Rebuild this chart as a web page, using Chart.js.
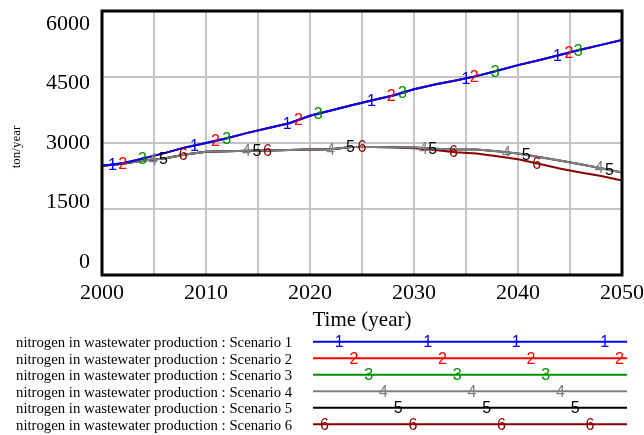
<!DOCTYPE html>
<html><head><meta charset="utf-8">
<script src="https://cdn.jsdelivr.net/npm/chart.js@4.4.0/dist/chart.umd.min.js"></script>
<style>html,body{margin:0;padding:0;background:#fff;overflow:hidden}canvas{display:block}</style>
</head><body>
<canvas id="c" width="644" height="435"></canvas>
<script>
const years = [2000,2002,2004,2006,2008,2010,2012,2014,2016,2018,2020,2022,2024,2026,2028,2030,2032,2034,2036,2038,2040,2042,2044,2046,2048,2050];
const scenario1 = [2480,2540,2650,2770,2900,3000,3110,3230,3340,3450,3620,3740,3860,3970,4080,4220,4330,4420,4520,4640,4770,4880,5000,5120,5230,5340];
const scenario2 = [2480,2540,2650,2770,2900,3000,3110,3230,3340,3450,3620,3740,3860,3970,4080,4220,4330,4420,4520,4640,4770,4880,5000,5120,5230,5340];
const scenario3 = [2480,2540,2650,2770,2900,3000,3110,3230,3340,3450,3620,3740,3860,3970,4080,4220,4330,4420,4520,4640,4770,4880,5000,5120,5230,5340];
const scenario4 = [2480,2530,2600,2650,2740,2800,2815,2825,2830,2840,2850,2860,2910,2910,2905,2895,2870,2855,2850,2810,2760,2680,2600,2515,2425,2330];
const scenario5 = [2480,2530,2600,2650,2740,2800,2815,2825,2830,2840,2850,2860,2910,2910,2905,2895,2870,2855,2850,2810,2760,2680,2600,2515,2425,2330];
const scenario6 = [2480,2530,2600,2650,2740,2800,2815,2825,2830,2840,2850,2860,2910,2910,2905,2880,2840,2790,2760,2700,2630,2530,2420,2330,2250,2150];
const seriesNames = [
  "nitrogen in wastewater production : Scenario 1",
  "nitrogen in wastewater production : Scenario 2",
  "nitrogen in wastewater production : Scenario 3",
  "nitrogen in wastewater production : Scenario 4",
  "nitrogen in wastewater production : Scenario 5",
  "nitrogen in wastewater production : Scenario 6"
];
const markerYears = [
  [2001.0, 2008.9, 2017.8, 2025.9, 2035.0, 2043.8],
  [2002.0, 2010.9, 2018.9, 2027.8, 2035.8, 2044.9],
  [2003.9, 2012.0, 2020.8, 2028.9, 2037.8, 2045.8],
  [2004.9, 2013.9, 2022.0, 2030.9, 2038.9, 2047.8],
  [2005.9, 2014.9, 2023.9, 2031.8, 2040.8, 2048.8],
  [2007.8, 2015.9, 2025.0, 2033.8, 2041.8]
];
const xTickLabels = [2000,2010,2020,2030,2040,2050];
const yTickLabels = [0,1500,3000,4500,6000];
const xTitle = "Time (year)";
const yTitle = "ton/year";

const seriesValues = [scenario1,scenario2,scenario3,scenario4,scenario5,scenario6];
const seriesColors = ['#0000ff','#ff0000','#009000','#808080','#000000','#8b0000'];

function interp(xs, ys, x){
  for(let i=0;i<xs.length-1;i++){
    if(x>=xs[i] && x<=xs[i+1]){
      const t=(x-xs[i])/(xs[i+1]-xs[i]);
      return ys[i]+t*(ys[i+1]-ys[i]);
    }
  }
  return ys[ys.length-1];
}

const datasets = seriesValues.map((vals,i)=>({
  label: seriesNames[i],
  data: years.map((yr,j)=>({x:yr,y:vals[j]})),
  borderColor: seriesColors[i],
  backgroundColor: seriesColors[i],
  borderWidth: 2,
  pointRadius: 0,
  fill: false,
  tension: 0
}));

const SERIF = "'Liberation Serif','Times New Roman',serif";
const SANS = "'Liberation Sans',Arial,sans-serif";

const decor = {
  id: 'decor',
  afterDraw(chart){
    const ctx = chart.ctx;
    const ca = chart.chartArea;
    const xs = chart.scales.x, ys = chart.scales.y;
    ctx.save();
    // markers on lines
    ctx.font = "16px " + SANS;
    ctx.textAlign = 'center';
    ctx.textBaseline = 'middle';
    for(let i=seriesValues.length-1;i>=0;i--){
      ctx.fillStyle = seriesColors[i];
      markerYears[i].forEach(yr=>{
        const v = interp(years, seriesValues[i], yr);
        ctx.fillText(String(i+1), xs.getPixelForValue(yr), ys.getPixelForValue(v)+1);
      });
    }
    // frame
    ctx.strokeStyle = '#000';
    ctx.lineWidth = 3;
    ctx.strokeRect(ca.left, ca.top, ca.right-ca.left, ca.bottom-ca.top);
    // y tick labels (Vensim-style spacing)
    ctx.fillStyle = '#000';
    ctx.font = "22px " + SERIF;
    ctx.textAlign = 'right';
    ctx.textBaseline = 'middle';
    const mid = (ca.top+ca.bottom)/2;
    yTickLabels.forEach(v=>{
      const p = ys.getPixelForValue(v);
      const yy = mid + (p-mid)*0.9;
      ctx.fillText(String(v), 90, yy);
    });
    // x title
    ctx.textAlign = 'center';
    ctx.font = "21px " + SERIF;
    ctx.fillText(xTitle, (ca.left+ca.right)/2, 320);
    // y title
    ctx.save();
    ctx.translate(17, mid+4);
    ctx.rotate(-Math.PI/2);
    ctx.font = "13px " + SERIF;
    ctx.fillText(yTitle, 0, 0);
    ctx.restore();
    // legend
    ctx.font = "100px " + SERIF;
    const w = ctx.measureText(seriesNames[0]).width;
    const fs = 100*276/w;
    for(let i=0;i<seriesNames.length;i++){
      const ty = 343.5 + i*16.5;
      const ly = 341.7 + i*16.5;
      ctx.font = fs.toFixed(2)+"px " + SERIF;
      ctx.fillStyle = '#000';
      ctx.textAlign = 'left';
      ctx.textBaseline = 'middle';
      ctx.fillText(seriesNames[i], 16, ty);
      ctx.strokeStyle = seriesColors[i];
      ctx.lineWidth = 2;
      ctx.beginPath();
      ctx.moveTo(313, ly);
      ctx.lineTo(627, ly);
      ctx.stroke();
      ctx.fillStyle = seriesColors[i];
      ctx.font = "16px " + SANS;
      ctx.textAlign = 'center';
      let base = 324.5 + (i+1)*14.75;
      while(base - 88.5 >= 313) base -= 88.5;
      for(let x=base; x<=627; x+=88.5){
        ctx.fillText(String(i+1), x, ly+1);
      }
    }
    ctx.restore();
  }
};

new Chart(document.getElementById('c'), {
  type: 'line',
  data: { datasets },
  options: {
    responsive: false,
    animation: false,
    devicePixelRatio: 1,
    layout: { padding: { top: 11, right: 0, left: 0, bottom: 0 } },
    plugins: { legend: { display: false }, tooltip: { enabled: false } },
    scales: {
      x: {
        type: 'linear', min: 2000, max: 2050,
        afterFit: s => { s.height = 160; s.paddingRight = 22; },
        ticks: {
          stepSize: 5, autoSkip: false, maxRotation: 0, minRotation: 0,
          callback: v => xTickLabels.includes(v) ? String(v) : '',
          font: { family: SERIF, size: 22 }, color: '#000', padding: 5
        },
        grid: { color: '#c4c4c4', lineWidth: 2, drawTicks: false },
        border: { display: false }
      },
      y: {
        type: 'linear', min: 0, max: 6000,
        afterFit: s => { s.width = 102; },
        afterBuildTicks: s => { s.ticks = yTickLabels.map(v=>({value:v})); },
        ticks: { display: false },
        grid: { color: '#c4c4c4', lineWidth: 2, drawTicks: false },
        border: { display: false }
      }
    }
  },
  plugins: [decor]
});
</script>
</body></html>
